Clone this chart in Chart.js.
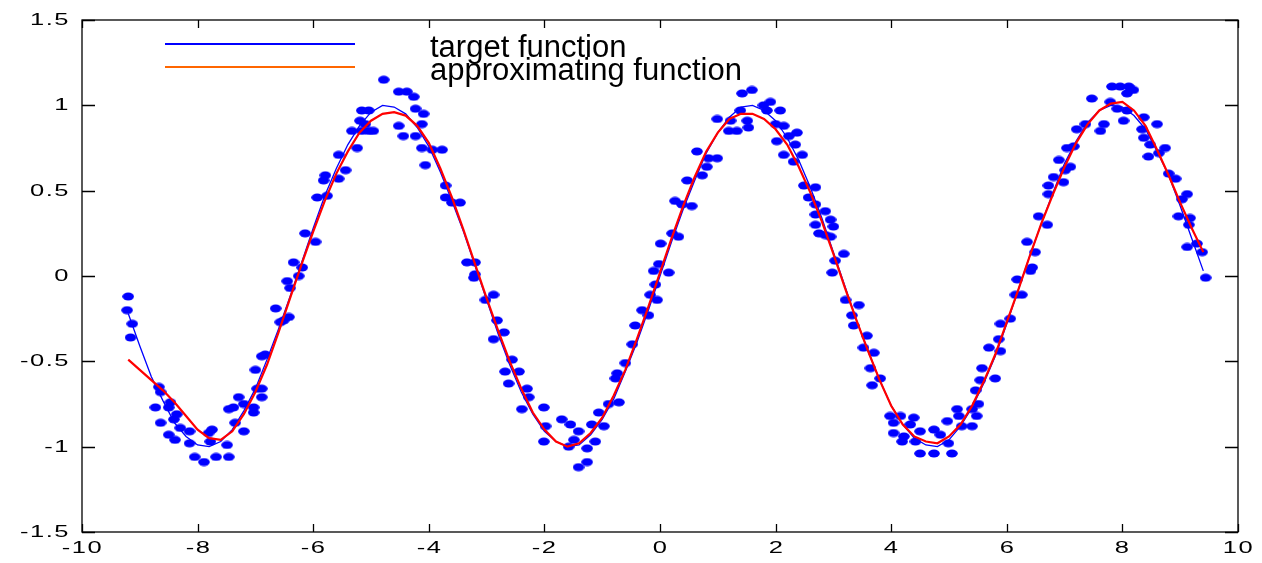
<!DOCTYPE html>
<html>
<head>
<meta charset="utf-8">
<title>target vs approximating function</title>
<script src="https://cdn.jsdelivr.net/npm/chart.js@4.4.1/dist/chart.umd.min.js"></script>
<style>
  html, body { margin: 0; padding: 0; background: #fff; }
  #wrap { width: 1262px; height: 563px; }
</style>
</head>
<body>
<div id="wrap"><canvas id="chart" width="1262" height="563"></canvas></div>
<script>
// x samples used for both curves
const curveX = [
  -9.2, -9.0, -8.8, -8.6, -8.4, -8.2, -8.0, -7.8, -7.6, -7.4, -7.2, -7.0, -6.8, -6.6, -6.4, -6.2,
  -6.0, -5.8, -5.6, -5.4, -5.2, -5.0, -4.8, -4.6, -4.4, -4.2, -4.0, -3.8, -3.6, -3.4, -3.2,
  -3.0, -2.8, -2.6, -2.4, -2.2, -2.0, -1.8, -1.6, -1.4, -1.2, -1.0, -0.8, -0.6, -0.4, -0.2,
  0.0, 0.2, 0.4, 0.6, 0.8, 1.0, 1.2, 1.4, 1.6, 1.8, 2.0, 2.2, 2.4, 2.6, 2.8,
  3.0, 3.2, 3.4, 3.6, 3.8, 4.0, 4.2, 4.4, 4.6, 4.8, 5.0, 5.2, 5.4, 5.6, 5.8,
  6.0, 6.2, 6.4, 6.6, 6.8, 7.0, 7.2, 7.4, 7.6, 7.8, 8.0, 8.2, 8.4, 8.6, 8.8,
  9.0, 9.2, 9.4
];

// target function (blue line)
const targetY = [
  -0.22, -0.41, -0.59, -0.73, -0.86, -0.94, -0.99, -1.00, -0.97, -0.90, -0.79, -0.66, -0.49, -0.31, -0.12, 0.08,
  0.28, 0.47, 0.63, 0.77, 0.88, 0.96, 1.00, 0.99, 0.95, 0.87, 0.76, 0.61, 0.44, 0.26, 0.06,
  -0.14, -0.34, -0.52, -0.68, -0.81, -0.91, -0.97, -1.00, -0.99, -0.93, -0.84, -0.72, -0.56, -0.39, -0.20,
  0.00, 0.20, 0.39, 0.56, 0.72, 0.84, 0.93, 0.99, 1.00, 0.97, 0.91, 0.81, 0.68, 0.52, 0.34,
  0.14, -0.06, -0.26, -0.44, -0.61, -0.76, -0.87, -0.95, -0.99, -1.00, -0.96, -0.88, -0.77, -0.63, -0.47,
  -0.28, -0.08, 0.12, 0.31, 0.49, 0.66, 0.79, 0.90, 0.97, 1.00, 0.99, 0.94, 0.86, 0.73, 0.59,
  0.41, 0.22, 0.03
];

// approximating function (red line)
const approxY = [
  -0.49, -0.55, -0.61, -0.67, -0.74, -0.82, -0.90, -0.95, -0.96, -0.91, -0.81, -0.68, -0.52, -0.33, -0.13, 0.07,
  0.26, 0.44, 0.60, 0.73, 0.84, 0.91, 0.95, 0.96, 0.94, 0.88, 0.78, 0.63, 0.46, 0.27, 0.07,
  -0.13, -0.32, -0.50, -0.66, -0.80, -0.90, -0.97, -1.00, -0.98, -0.92, -0.83, -0.70, -0.55, -0.37, -0.18,
  0.02, 0.22, 0.41, 0.58, 0.73, 0.84, 0.92, 0.95, 0.95, 0.92, 0.86, 0.77, 0.64, 0.49, 0.32,
  0.13, -0.07, -0.26, -0.44, -0.61, -0.76, -0.87, -0.94, -0.97, -0.98, -0.94, -0.87, -0.76, -0.62, -0.46,
  -0.27, -0.08, 0.12, 0.31, 0.48, 0.64, 0.78, 0.89, 0.97, 1.01, 1.02, 0.97, 0.88, 0.74, 0.59,
  0.43, 0.28, 0.14
];

// noisy training samples (blue dots)
const dotX = [
  -9.20, -9.22, -9.13, -9.16, -8.67, -8.64, -8.73, -8.47, -8.50, -8.36, -8.41, -8.64, -8.50, -8.39, -8.30, -8.14,
  -8.14, -8.05, -7.89, -7.75, -7.81, -7.78, -7.68, -7.46, -7.49, -7.46, -7.38, -7.29, -7.35, -7.20, -7.20, -7.03,
  -7.03, -6.89, -6.89, -6.97, -7.00, -6.89, -6.83, -6.57, -6.51, -6.42, -6.65, -6.45, -6.34, -6.25, -6.19, -6.40,
  -4.78, -4.52, -4.38, -4.26, -5.16, -5.04, -5.19, -5.10, -5.04, -4.96, -5.16, -4.52, -4.44, -4.23, -4.23, -4.09,
  -4.12, -5.33, -5.24, -5.56, -5.44, -5.79, -5.82, -5.56, -5.93, -5.76, -6.14, -5.96, -4.12, -3.94, -3.77, -4.06,
  -3.71, -3.71, -3.60, -3.46, -3.20,
  -3.34, -3.20, -3.22, -3.02, -2.88, -2.82, -2.70, -2.88, -2.56, -2.68, -2.44, -2.62, -2.30, -2.27, -2.39, -2.01,
  -1.98, -2.01, -1.70, -1.55, -1.41, -1.49, -1.58, -1.26, -1.26, -1.41, -1.18, -1.12, -1.06, -0.97, -0.89, -0.71,
  -0.74, -0.77, -0.60, -0.48, -0.43, -0.31, -0.20, -0.17, -0.05, -0.08, -0.11, -0.02,
  0.15, 0.01, 0.21, 0.32, 0.26, 0.38, 0.55, 0.47, 0.73, 0.64, 0.84, 0.99, 0.81, 0.99, 1.22, 1.19,
  1.33, 1.51, 1.53, 1.42, 1.59, 1.39, 1.79, 1.91, 1.85, 2.08, 2.00, 2.14, 2.02, 2.23, 2.37, 2.34, 2.14,
  2.46, 2.31, 2.49, 2.69, 2.57, 2.69, 2.86, 2.69, 2.95, 2.69, 3.00, 2.75, 2.86, 2.95, 3.18, 3.03,
  2.98, 3.21, 3.44, 3.32, 3.35, 3.58, 3.52,
  3.70, 3.64, 3.81, 3.67, 3.98, 4.16, 4.04, 4.39, 4.33, 4.04, 4.22, 4.50, 4.19, 4.42, 4.50, 4.74,
  5.05, 4.74, 4.85, 4.97, 4.99, 5.14, 5.17, 5.22, 5.40, 5.40, 5.48, 5.51, 5.46, 5.54, 5.80, 5.57,
  5.69, 5.89, 5.86, 5.89, 6.06, 6.15, 6.26, 6.18,
  6.44, 6.41, 6.49, 6.35, 6.70, 6.55, 6.72, 6.72, 6.98, 6.81, 7.01, 7.10, 6.90, 7.04, 7.16, 7.21,
  7.36, 7.68, 7.62, 7.47, 7.79, 7.82, 7.96, 8.11, 8.19, 8.08, 7.91, 8.08, 8.02, 8.37, 8.60, 8.34,
  8.37, 8.48, 8.45, 8.74, 8.63, 8.80, 8.92, 9.03, 9.12, 8.97, 9.17, 9.15, 9.12, 9.29, 9.38, 9.44
];
const dotY = [
  -0.12, -0.20, -0.28, -0.36, -0.65, -0.68, -0.77, -0.74, -0.77, -0.81, -0.84, -0.86, -0.93, -0.96, -0.89, -0.91,
  -0.98, -1.06, -1.09, -0.90, -0.92, -0.97, -1.06, -1.06, -0.99, -0.78, -0.77, -0.71, -0.86, -0.91, -0.75, -0.77,
  -0.80, -0.66, -0.71, -0.66, -0.55, -0.47, -0.46, -0.27, -0.26, -0.24, -0.19, -0.03, 0.08, 0.00, 0.05, -0.07,
  1.15, 1.08, 1.08, 1.05, 0.97, 0.97, 0.91, 0.89, 0.85, 0.85, 0.85, 0.88, 0.82, 0.82, 0.98, 0.95,
  0.89, 0.85, 0.75, 0.71, 0.62, 0.59, 0.56, 0.57, 0.46, 0.47, 0.25, 0.20, 0.75, 0.74, 0.74, 0.65,
  0.53, 0.46, 0.43, 0.43, 0.08,
  0.08, 0.01, -0.01, -0.14, -0.11, -0.26, -0.33, -0.37, -0.49, -0.56, -0.56, -0.63, -0.66, -0.71, -0.78, -0.77,
  -0.88, -0.97, -0.84, -0.87, -0.91, -0.96, -1.00, -1.01, -1.09, -1.12, -0.87, -0.97, -0.80, -0.88, -0.75, -0.74,
  -0.57, -0.60, -0.51, -0.40, -0.29, -0.20, -0.23, -0.11, -0.14, -0.05, 0.03, 0.07,
  0.02, 0.19, 0.25, 0.23, 0.44, 0.42, 0.41, 0.56, 0.59, 0.73, 0.69, 0.69, 0.64, 0.92, 0.91, 0.85,
  0.85, 0.91, 0.87, 1.07, 1.09, 0.97, 1.00, 1.02, 0.97, 0.97, 0.89, 0.88, 0.79, 0.82, 0.84, 0.77, 0.71,
  0.71, 0.67, 0.53, 0.52, 0.46, 0.42, 0.38, 0.36, 0.33, 0.30, 0.29, 0.25, 0.24, 0.23, 0.13, 0.09,
  0.02, -0.14, -0.17, -0.23, -0.29, -0.35, -0.42,
  -0.45, -0.54, -0.60, -0.64, -0.82, -0.82, -0.86, -0.83, -0.87, -0.92, -0.94, -0.91, -0.97, -0.97, -1.04, -1.04,
  -1.04, -0.90, -0.93, -0.85, -0.98, -0.78, -0.82, -0.88, -0.88, -0.78, -0.82, -0.75, -0.67, -0.61, -0.60, -0.54,
  -0.42, -0.44, -0.37, -0.28, -0.25, -0.11, -0.11, -0.02,
  0.05, 0.03, 0.14, 0.20, 0.30, 0.35, 0.48, 0.53, 0.55, 0.58, 0.62, 0.64, 0.68, 0.75, 0.76, 0.86,
  0.89, 0.89, 0.85, 1.04, 1.02, 1.11, 1.11, 1.11, 1.09, 1.07, 0.98, 0.97, 0.91, 0.93, 0.89, 0.86,
  0.81, 0.77, 0.70, 0.75, 0.72, 0.60, 0.57, 0.45, 0.48, 0.35, 0.34, 0.30, 0.17, 0.19, 0.14, -0.01
];

const xTicks = [-10, -8, -6, -4, -2, 0, 2, 4, 6, 8, 10];
const yTicks = [-1.5, -1, -0.5, 0, 0.5, 1, 1.5];
const seriesNames = ["target function", "approximating function"];

const toPoints = (xs, ys) => xs.map((x, i) => ({ x: x, y: ys[i] }));

// small flattened blob for the sample markers
function makeDot() {
  const c = document.createElement("canvas");
  c.width = 12;
  c.height = 9;
  const g = c.getContext("2d");
  g.fillStyle = "#0000ff";
  g.beginPath();
  g.ellipse(6, 4.5, 5.8, 4, 0, 0, Math.PI * 2);
  g.fill();
  return c;
}

const labelFont = "17px 'Liberation Sans', Arial, sans-serif";

// the old figure was stretched sideways, so tick text is drawn wide
function wideText(ctx, text, x, y, align) {
  ctx.save();
  ctx.translate(x, y);
  ctx.scale(1.5, 1);
  ctx.font = labelFont;
  ctx.letterSpacing = "1px";
  ctx.textAlign = align;
  ctx.textBaseline = "middle";
  ctx.fillStyle = "#000";
  ctx.fillText(text, 0, 0);
  ctx.restore();
}

// matlab-ish frame: box + inward ticks on all four sides, tick text, custom legend
const framePlugin = {
  id: "frame",
  afterDraw(chart) {
    const ctx = chart.ctx;
    const a = chart.chartArea;
    const xs = chart.scales.x;
    const ys = chart.scales.y;
    ctx.save();
    ctx.strokeStyle = "#000";
    ctx.lineWidth = 1.3;
    ctx.strokeRect(a.left, a.top, a.right - a.left, a.bottom - a.top);
    ctx.beginPath();
    xTicks.forEach((t) => {
      const px = Math.round(xs.getPixelForValue(t)) + 0.5;
      ctx.moveTo(px, a.bottom);
      ctx.lineTo(px, a.bottom - 8);
      ctx.moveTo(px, a.top);
      ctx.lineTo(px, a.top + 8);
      wideText(ctx, String(t), px, a.bottom + 16, "center");
    });
    yTicks.forEach((t) => {
      const py = Math.round(ys.getPixelForValue(t)) + 0.5;
      ctx.moveTo(a.left, py);
      ctx.lineTo(a.left + 13, py);
      ctx.moveTo(a.right, py);
      ctx.lineTo(a.right - 13, py);
      wideText(ctx, String(t), a.left - 12, py, "right");
    });
    ctx.stroke();

    // legend
    const colors = ["#0000ff", "#ff6600"];
    ctx.lineWidth = 2;
    ctx.font = "31px 'Liberation Sans', Arial, sans-serif";
    ctx.fillStyle = "#000";
    ctx.textBaseline = "alphabetic";
    seriesNames.forEach((name, i) => {
      const ly = 44 + i * 23;
      ctx.strokeStyle = colors[i];
      ctx.beginPath();
      ctx.moveTo(165, ly);
      ctx.lineTo(355, ly);
      ctx.stroke();
      ctx.fillText(name, 430, 57 + i * 23);
    });
    ctx.restore();
  }
};

const chart = new Chart(document.getElementById("chart"), {
  type: "scatter",
  data: {
    datasets: [
      {
        label: seriesNames[1],
        data: toPoints(curveX, approxY),
        showLine: true,
        borderColor: "#ff0000",
        borderWidth: 2.2,
        pointRadius: 0,
        tension: 0,
        order: 0
      },
      {
        label: seriesNames[0],
        data: toPoints(curveX, targetY),
        showLine: true,
        borderColor: "#0000ff",
        borderWidth: 1.3,
        pointRadius: 0,
        tension: 0,
        order: 1
      },
      {
        label: "samples",
        data: toPoints(dotX, dotY),
        pointStyle: makeDot(),
        pointRadius: 5,
        order: 2
      }
    ]
  },
  options: {
    responsive: false,
    animation: false,
    layout: { padding: { top: 20, right: 24, left: 0, bottom: 0 } },
    plugins: {
      legend: { display: false },
      tooltip: { enabled: false }
    },
    scales: {
      x: {
        type: "linear",
        min: -10,
        max: 10,
        afterFit: (s) => { s.height = 31; },
        ticks: { display: false },
        grid: { display: false },
        border: { display: false }
      },
      y: {
        min: -1.5,
        max: 1.5,
        afterFit: (s) => { s.width = 82; },
        ticks: { display: false },
        grid: { display: false },
        border: { display: false }
      }
    }
  },
  plugins: [framePlugin]
});
</script>
</body>
</html>
